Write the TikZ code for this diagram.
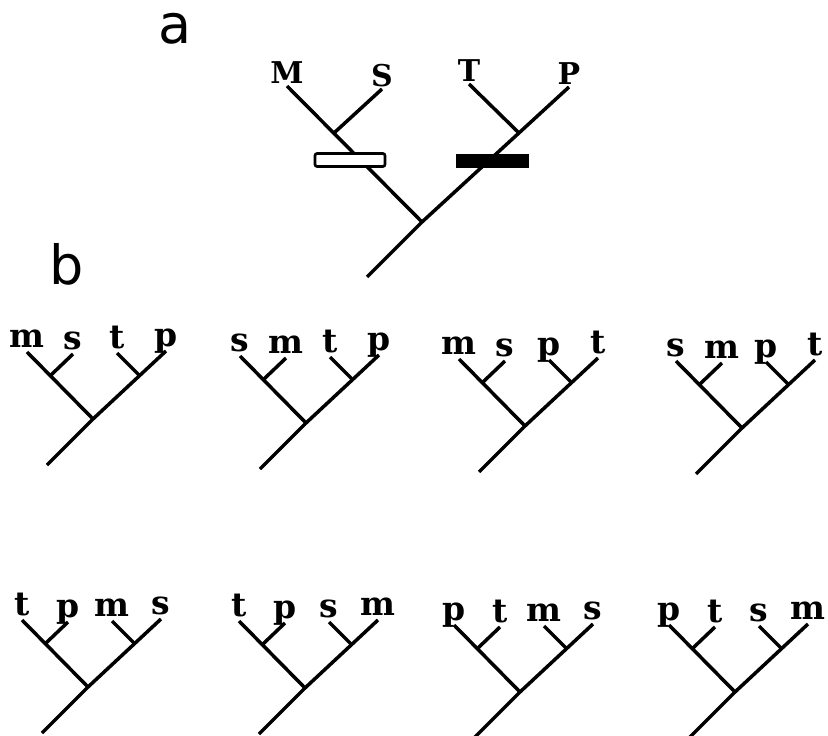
\documentclass[tikz,border=0pt]{standalone}
\usepackage{fontspec}
\setmainfont{DejaVu Serif}
\newfontfamily\panelfont{DejaVu Sans}

% one four-taxon tree: #1 name, #2 position of the basal fork, #3-#6 leaf labels
\newcommand\foursptree[6]{%
  \begin{scope}[shift={#2}]
    \coordinate (#1-r)  at (0,0);
    \coordinate (#1-b)  at (-46,46);
    \coordinate (#1-l1) at (-66,-67);
    \coordinate (#1-j1) at (-42,-44);
    \coordinate (#1-l2) at (-20,-65);
    \coordinate (#1-j2) at (46,-44);
    \coordinate (#1-l3) at (24,-66);
    \coordinate (#1-l4) at (73,-68);
    \draw[branch] (#1-b) -- (#1-r) -- (#1-l4);
    \draw[branch] (#1-r) -- (#1-l1);
    \draw[branch] (#1-j1) -- (#1-l2);
    \draw[branch] (#1-j2) -- (#1-l3);
    \node[leaf] (#1-t1) at (#1-l1) {#3};
    \node[leaf] (#1-t2) at (#1-l2) {#4};
    \node[leaf] (#1-t3) at (#1-l3) {#5};
    \node[leaf] (#1-t4) at (#1-l4) {#6};
  \end{scope}}

\begin{document}
\begin{tikzpicture}[x=1pt,y=-1pt,
    branch/.style={line width=3.5pt},
    leaf/.style={anchor=base,yshift=5pt,inner sep=0pt,font=\bfseries\fontsize{33}{33}\selectfont},
    bigleaf/.style={anchor=base,yshift=3pt,inner sep=0pt,font=\bfseries\fontsize{30}{30}\selectfont},
    panel/.style={anchor=base,inner sep=0pt,font=\panelfont\fontsize{54}{54}\selectfont},
    openbar/.style={draw,fill=white,line width=2.6pt,rounded corners=2pt,minimum width=70pt,minimum height=13pt,inner sep=0pt},
    solidbar/.style={fill=black,minimum width=73pt,minimum height=14pt,inner sep=0pt}]
  \useasboundingbox (0,0) rectangle (828,736);

  % panel a: the four-taxon tree with the two marked branches
  \node[panel] (pa) at (175,43) {a};
  \coordinate (A-b)  at (367,277);
  \coordinate (A-r)  at (422,222);
  \coordinate (A-M)  at (287,86);
  \coordinate (A-j1) at (334,133);
  \coordinate (A-S)  at (382,89);
  \coordinate (A-j2) at (518,132);
  \coordinate (A-T)  at (469,84);
  \coordinate (A-P)  at (569,87);
  \draw[branch] (A-b) -- (A-r) -- (A-P);
  \draw[branch] (A-r) -- (A-M);
  \draw[branch] (A-j1) -- (A-S);
  \draw[branch] (A-j2) -- (A-T);
  \node[openbar]  (barO) at (350,160) {};
  \node[solidbar] (barS) at (492,161) {};
  \node[bigleaf] (tM) at (A-M) {M};
  \node[bigleaf] (tS) at (A-S) {S};
  \node[bigleaf] (tT) at (A-T) {T};
  \node[bigleaf] (tP) at (A-P) {P};

  % panel b: the eight alternative labellings
  \node[panel] (pb) at (67,284) {b};
  \foursptree{b1}{(93,419)}{m}{s}{t}{p}
  \foursptree{b2}{(306,423)}{s}{m}{t}{p}
  \foursptree{b3}{(525,426)}{m}{s}{p}{t}
  \foursptree{b4}{(742,428)}{s}{m}{p}{t}
  \foursptree{b5}{(88,687)}{t}{p}{m}{s}
  \foursptree{b6}{(305,688)}{t}{p}{s}{m}
  \foursptree{b7}{(520,692)}{p}{t}{m}{s}
  \foursptree{b8}{(735,692)}{p}{t}{s}{m}
\end{tikzpicture}
\end{document}
